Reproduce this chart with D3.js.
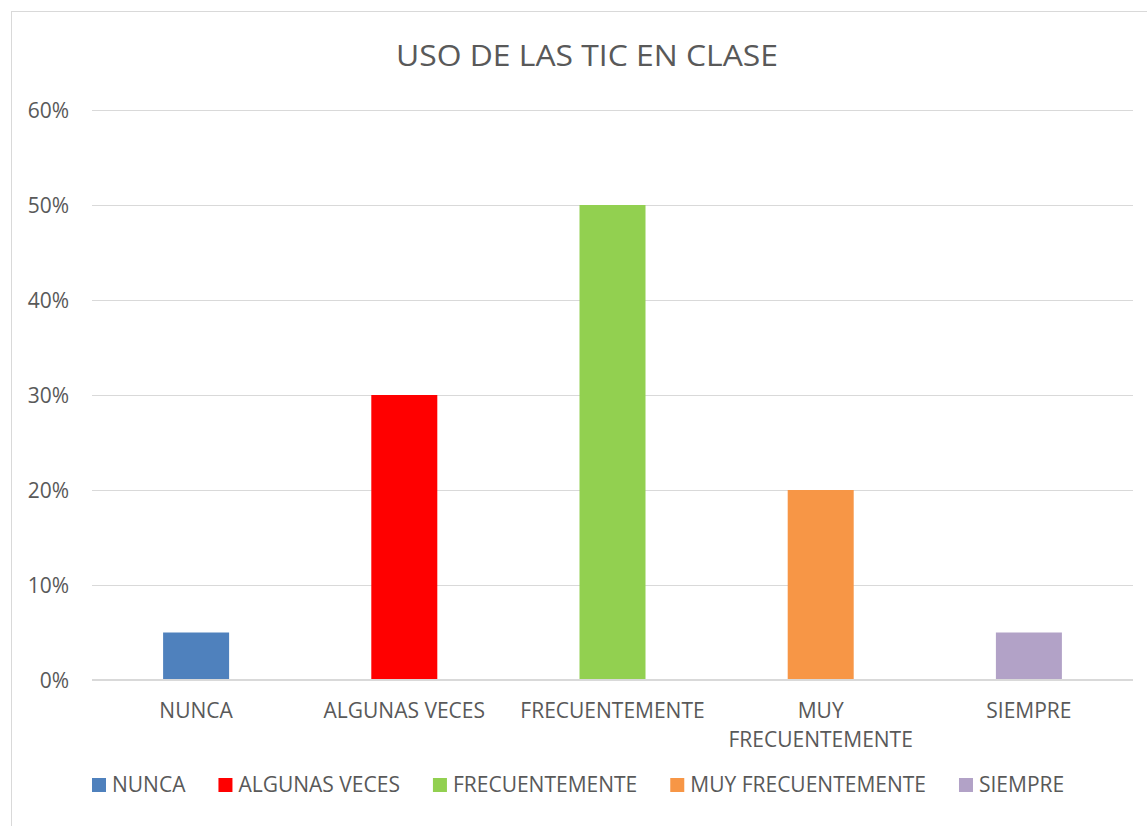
<!DOCTYPE html>
<meta charset="utf-8">
<style>
body { margin: 0; background: #fff; }
svg { display: block; }
text { font-family: "Open Sans", sans-serif; fill: #595959; }
</style>
<svg width="1147" height="826"></svg>
<script src="https://d3js.org/d3.v7.min.js"></script>
<script>

var categories = ["NUNCA", "ALGUNAS VECES", "FRECUENTEMENTE", "MUY FRECUENTEMENTE", "SIEMPRE"];
var values = [0.05, 0.30, 0.50, 0.20, 0.05];
var colors = ["#4f81bd", "#ff0000", "#92d050", "#f79646", "#b2a2c7"];
var yTicks = [0, 0.1, 0.2, 0.3, 0.4, 0.5, 0.6];
var title = "USO DE LAS TIC EN CLASE";

var svg = d3.select("svg"),
    width = +svg.attr("width"),
    height = +svg.attr("height");

var margin = {left: 92, right: 1133, top: 110, bottom: 680};

// chart frame
svg.append("rect")
    .attr("x", 11.5).attr("y", 11.5)
    .attr("width", width + 20).attr("height", height + 20)
    .attr("fill", "#fff")
    .attr("stroke", "#d9d9d9");

var x = d3.scaleBand()
    .domain(categories)
    .range([margin.left, margin.right])
    .paddingInner(0.683)
    .paddingOuter(0.683 / 2);

var y = d3.scaleLinear()
    .domain([0, 0.6])
    .range([margin.bottom, margin.top]);

// grid
svg.append("g")
  .selectAll("line")
  .data(yTicks.slice(1))
  .enter().append("line")
    .attr("x1", margin.left).attr("x2", margin.right)
    .attr("y1", d => Math.round(y(d)) + 0.5)
    .attr("y2", d => Math.round(y(d)) + 0.5)
    .attr("stroke", "#d9d9d9");

// y labels
svg.append("g")
  .selectAll("text")
  .data(yTicks)
  .enter().append("text")
    .attr("x", 69)
    .attr("y", d => y(d))
    .attr("dy", "0.36em")
    .attr("text-anchor", "end")
    .style("font-size", "21px")
    .text(d3.format(".0%"));

// bars
svg.append("g")
  .selectAll("rect")
  .data(values)
  .enter().append("rect")
    .attr("x", (d, i) => x(categories[i]))
    .attr("y", d => y(d))
    .attr("width", x.bandwidth())
    .attr("height", d => y(0) - y(d))
    .attr("fill", (d, i) => colors[i]);

// zero axis line
svg.append("line")
    .attr("x1", margin.left).attr("x2", margin.right)
    .attr("y1", y(0)).attr("y2", y(0))
    .attr("stroke", "#d9d9d9")
    .attr("stroke-width", 2);

// category labels (wrapped like excel)
var wrapped = {"MUY FRECUENTEMENTE": ["MUY", "FRECUENTEMENTE"]};
var lab = svg.append("g")
  .selectAll("text")
  .data(categories)
  .enter().append("text")
    .attr("x", d => x(d) + x.bandwidth() / 2)
    .attr("y", 718)
    .attr("text-anchor", "middle")
    .style("font-size", "21px");
lab.each(function(d) {
  var lines = wrapped[d] || [d];
  d3.select(this).selectAll("tspan")
    .data(lines)
    .enter().append("tspan")
      .attr("x", x(d) + x.bandwidth() / 2)
      .attr("dy", (l, i) => i ? 29 : 0)
      .text(l => l);
});

// title
svg.append("text")
    .attr("x", 587)
    .attr("y", 66)
    .attr("text-anchor", "middle")
    .attr("textLength", 382)
    .attr("lengthAdjust", "spacingAndGlyphs")
    .style("font-size", "29px")
    .text(title);

// legend
var legend = svg.append("g");
var lx = 92;
categories.forEach(function(c, i) {
  legend.append("rect")
      .attr("x", lx).attr("y", 778)
      .attr("width", 14).attr("height", 14)
      .attr("fill", colors[i]);
  var t = legend.append("text")
      .attr("x", lx + 20)
      .attr("y", 792)
      .style("font-size", "21px")
      .text(c);
  lx += 20 + t.node().getComputedTextLength() + 33;
});

</script>
